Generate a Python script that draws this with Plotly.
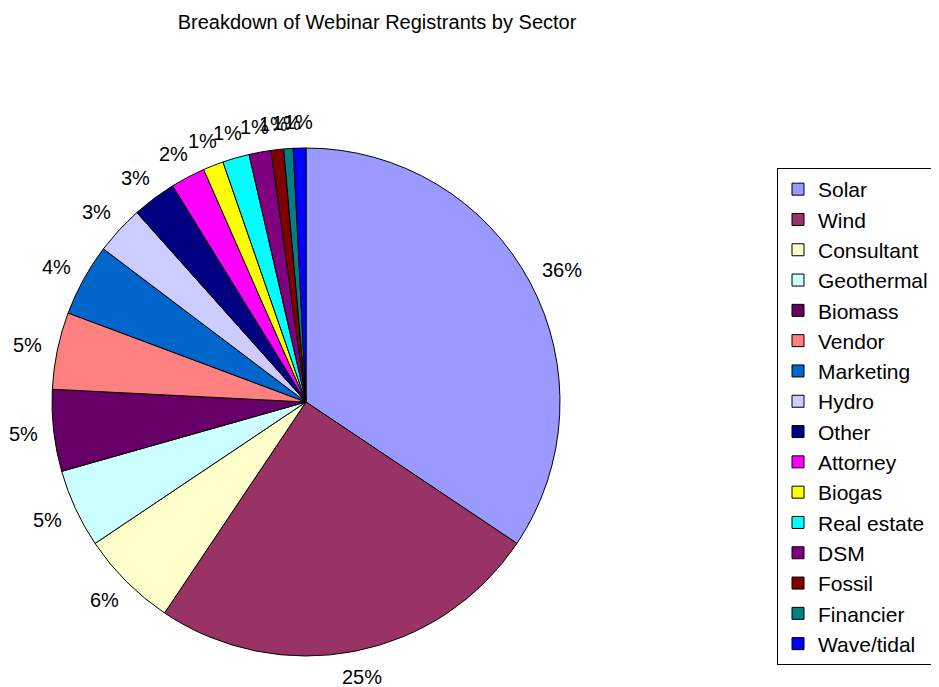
import math
import plotly.graph_objects as go

# Sectors in legend / slice order (clockwise from 12 o'clock)
sectors = ["Solar", "Wind", "Consultant", "Geothermal", "Biomass", "Vendor",
           "Marketing", "Hydro", "Other", "Attorney", "Biogas", "Real estate",
           "DSM", "Fossil", "Financier", "Wave/tidal"]

# share of registrants (%)
shares = [34.4, 25.0, 6.2, 5.0, 5.2, 4.9, 4.6, 3.1, 2.8, 2.2, 1.3, 1.7,
          1.4, 0.8, 0.6, 0.8]

# labels as printed on the chart
pct_labels = ["36%", "25%", "6%", "5%", "5%", "5%", "4%", "3%", "3%", "2%",
              "1%", "1%", "1%", "1%", "1%", "1%"]

colors = ["#9999FF", "#993366", "#FFFFCC", "#CCFFFF", "#660066", "#FF8080",
          "#0066CC", "#CCCCFF", "#000080", "#FF00FF", "#FFFF00", "#00FFFF",
          "#800080", "#800000", "#008080", "#0000FF"]

W, H = 939, 687
FONT = "Liberation Sans, Arial, sans-serif"
FS = 20          # label font size
OFF = 8          # page body margin shifts the figure by 8px
PIE = 508        # pie diameter in px (plot area is the pie's square)
GAP = 16         # gap between pie edge and the near side of a label, px

fig = go.Figure(go.Pie(
    labels=sectors,
    values=shares,
    textinfo="none",
    sort=False,
    direction="clockwise",
    rotation=0,
    marker=dict(colors=colors, line=dict(color="black", width=1)),
    hoverinfo="label+percent",
    domain=dict(x=[0, 1], y=[0, 1]),
))

# Excel-style labels: placed just outside each slice's mid angle, with the
# label box pushed out by half its size (overlaps left as in the original)
total = sum(shares)
cum = 0.0
for val, lab in zip(shares, pct_labels):
    mid = 2 * math.pi * (cum + val / 2) / total
    cum += val
    w = FS * (0.556 * (len(lab) - 1) + 0.889)
    h = FS
    dx = (PIE / 2 + GAP) * math.sin(mid) + w / 2 * math.sin(mid)
    dy = (PIE / 2 + GAP) * math.cos(mid) + h / 2 * math.cos(mid)
    fig.add_annotation(
        text=lab, showarrow=False,
        xref="paper", yref="paper",
        x=0.5 + dx / PIE, y=0.5 + dy / PIE,
        xanchor="center", yanchor="middle",
        font=dict(family=FONT, size=FS, color="black"),
    )

left, top = 52 - OFF, 148 - OFF
fig.update_layout(
    width=W, height=H,
    margin=dict(l=left, r=W - left - PIE, t=top, b=H - top - PIE),
    paper_bgcolor="white",
    plot_bgcolor="white",
    font=dict(family=FONT, size=FS, color="black"),
    title=dict(text="Breakdown of Webinar Registrants by Sector",
               x=(377 - OFF) / W, xanchor="center", xref="container",
               y=1 - (22 - OFF) / H, yanchor="middle", yref="container",
               font=dict(family=FONT, size=20, color="black")),
    legend=dict(
        xref="container", yref="container",
        x=(777 - OFF) / W, xanchor="left",
        y=1 - (168 - OFF) / H, yanchor="top",
        bordercolor="black", borderwidth=1,
        bgcolor="white",
        itemwidth=30,
        maxheight=600,
        font=dict(family=FONT, size=21, color="black"),
        traceorder="normal",
    ),
    showlegend=True,
)

fig.write_html("out.html")
